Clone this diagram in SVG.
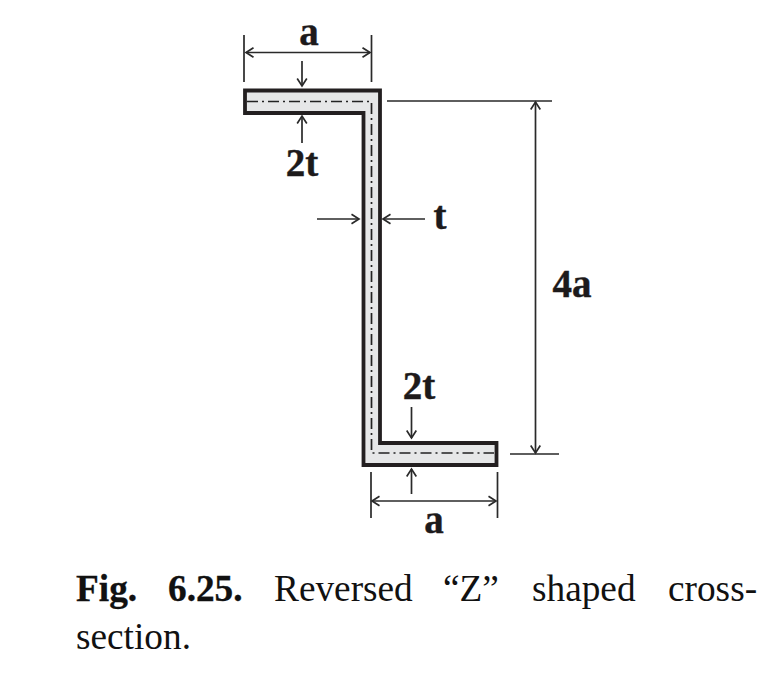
<svg xmlns="http://www.w3.org/2000/svg" width="782" height="675" viewBox="0 0 782 675">
<style>
.dim{fill:none;stroke:#2a2a2a;stroke-width:1.700}
.lbl{font-family:"Liberation Serif",serif;font-weight:bold;font-size:39px;fill:#1d1a1b;stroke:#1d1a1b;stroke-width:.4;text-anchor:middle}
.cap{font-family:"Liberation Serif",serif;font-size:37.300px;fill:#111}
.capb{font-weight:bold;stroke:#111;stroke-width:.3}
</style>
<defs>
<marker id="arr" viewBox="-10 -6 12 12" markerWidth="12" markerHeight="12" refX="0" refY="0" orient="auto-start-reverse" markerUnits="userSpaceOnUse">
<path d="M-7.500,-4.800 L0,0 L-7.500,4.800" fill="none" stroke="#2a2a2a" stroke-width="1.700"/>
</marker>
</defs>
<g id="section">
<path d="M245,90.500 H380 V443 H496.500 V465 H363.500 V113 H245 Z" fill="#e6e7e8" stroke="#231f20" stroke-width="3.800"/>
<path d="M247,101.500 H371.500 V453 H494" fill="none" stroke="#222" stroke-width="1.700" stroke-dasharray="11 4 2 4"/>
</g>
<g id="connectors">
<path class="dim" d="M244,35 V82 M371.500,35 V82 M387,101 H552 M371,472 V518 M497.500,472 V518 M510,454 H559"/>
<path class="dim" d="M246,52.500 H370" marker-start="url(#arr)" marker-end="url(#arr)"/>
<path class="dim" d="M302,61 V86" marker-end="url(#arr)"/>
<path class="dim" d="M302,143 V116" marker-end="url(#arr)"/>
<path class="dim" d="M317,219 H359" marker-end="url(#arr)"/>
<path class="dim" d="M425,219 H383" marker-end="url(#arr)"/>
<path class="dim" d="M535.500,102 V453" marker-start="url(#arr)" marker-end="url(#arr)"/>
<path class="dim" d="M411.500,407 V438" marker-end="url(#arr)"/>
<path class="dim" d="M411.500,494 V469" marker-end="url(#arr)"/>
<path class="dim" d="M372,501 H496" marker-start="url(#arr)" marker-end="url(#arr)"/>
</g>
<g id="labels">
<text class="lbl" x="309" y="45">a</text>
<text class="lbl" x="302" y="176">2t</text>
<text class="lbl" x="440" y="229">t</text>
<text class="lbl" x="572" y="297">4a</text>
<text class="lbl" x="419" y="399">2t</text>
<text class="lbl" x="434" y="533">a</text>
</g>
<g id="caption">
<text class="cap capb" x="76" y="601">Fig.</text>
<text class="cap capb" x="168" y="601">6.25.</text>
<text class="cap" x="274" y="601">Reversed</text>
<text class="cap" x="443" y="601">“Z”</text>
<text class="cap" x="532" y="601">shaped</text>
<text class="cap" x="668" y="601">cross-</text>
<text class="cap" x="76" y="649">section.</text>
</g>
</svg>
